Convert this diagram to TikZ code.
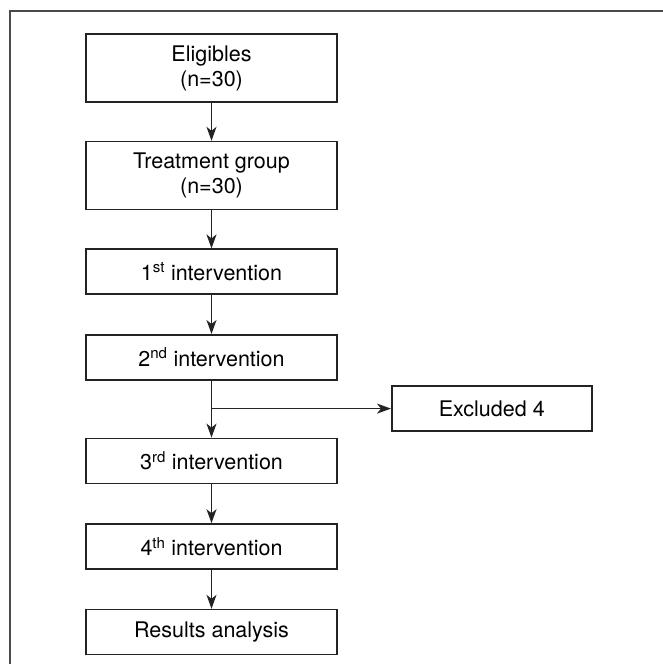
\documentclass[tikz,border=0pt]{standalone}
\usepackage{fontspec}
\setmainfont{TeX Gyre Heros}
\definecolor{flowLine}{RGB}{35,35,35}
\definecolor{frameGray}{RGB}{75,75,75}
\usetikzlibrary{arrows.meta,positioning}

\begin{document}
\begin{tikzpicture}[x=1pt, y=1pt,
  box/.style={draw=flowLine, line width=1.6pt, minimum width=251pt,
              minimum height=45pt, inner sep=0pt, align=center,
              font=\fontsize{21.5}{25}\selectfont},
  tallbox/.style={box, minimum height=68pt},
  flow/.style={-{Stealth[length=14pt, width=10pt, inset=4pt]}, line width=1.5pt, draw=flowLine}
]
  \useasboundingbox (0,0) rectangle (663,-664);
  % open frame: only top and left sides show
  \draw[frameGray, line width=1.6pt] (10,-664) -- (10,-11) -- (663,-11);

  \node[tallbox] (elig) at (211.5,-68) {Eligibles\\(n=30)};
  \node[tallbox, below=38pt of elig] (treat) {Treatment group\\(n=30)};
  \node[box, below=38pt of treat] (int1) {1\textsuperscript{st} intervention};
  \node[box, below=39pt of int1]  (int2) {2\textsuperscript{nd} intervention};
  \coordinate[below=28pt of int2] (split);
  \node[box, below=57pt of int2]  (int3) {3\textsuperscript{rd} intervention};
  \node[box, below=39pt of int3]  (int4) {4\textsuperscript{th} intervention};
  \node[box, below=39pt of int4]  (res)  {Results analysis};
  \node[box, minimum width=200pt, right=179.5pt of split] (excl) {Excluded 4};

  \draw[flow] (elig) -- (treat);
  \draw[flow] (treat) -- (int1);
  \draw[flow] (int1) -- (int2);
  \draw[flow] (int2) -- (int3);
  \draw[flow] (split) -- (excl);
  \draw[flow] (int3) -- (int4);
  \draw[flow] (int4) -- (res);
\end{tikzpicture}
\end{document}
